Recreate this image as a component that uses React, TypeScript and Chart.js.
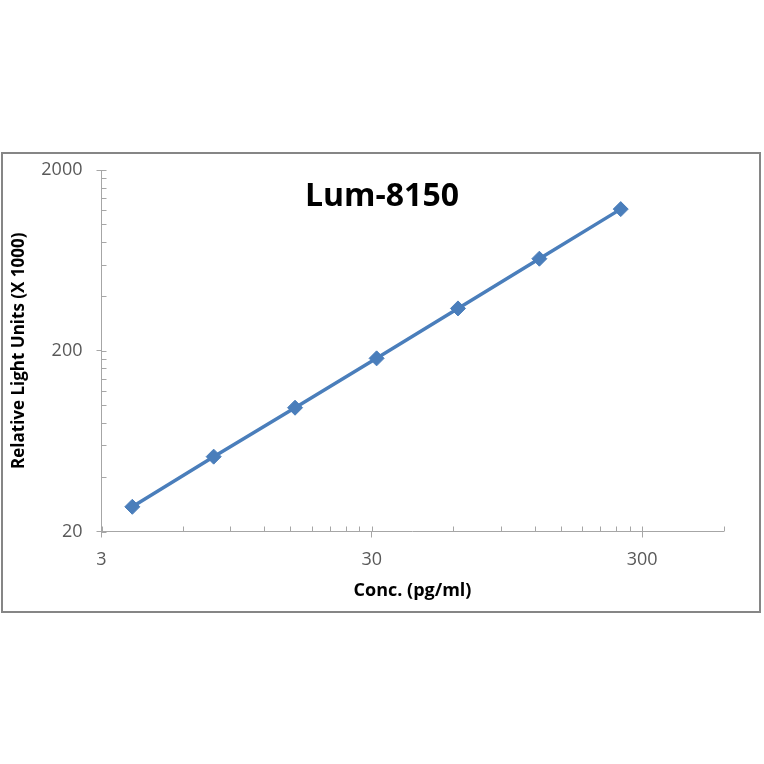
import React, { useEffect, useRef } from "react";
import { Chart, registerables } from "chart.js";

Chart.register(...registerables);

// ---- data ----
const concentrations = [3.9, 7.8, 15.6, 31.25, 62.5, 125, 250];
const rluValues = [27.4, 51.9, 96.8, 181.5, 343, 646, 1215];

const xTickValues = [3, 6, 9, 12, 15, 18, 21, 24, 27, 30, 60, 90, 120, 150, 180, 210, 240, 270, 300, 600];
const xLabelValues = [3, 30, 300];
const yTickValues = [
  20, 40, 60, 80, 100, 120, 140, 160, 180, 200,
  400, 600, 800, 1000, 1200, 1400, 1600, 1800, 2000,
];
const yLabelValues = [20, 200, 2000];

const chartTitle = "Lum-8150";
const xAxisTitle = "Conc. (pg/ml)";
const yAxisTitle = "Relative Light Units (X 1000)";

const SERIES_COLOR = "#4a7ebb";
const AXIS_COLOR = "#a6a6a6";
const TICK_TEXT = "#595959";
const FONT = "'Open Sans', 'DejaVu Sans', sans-serif";

const decorPlugin = {
  id: "decor",
  beforeDraw(chart: any) {
    const { ctx, width, height } = chart;
    ctx.save();
    ctx.fillStyle = "#ffffff";
    ctx.fillRect(0, 0, width, height);
    ctx.strokeStyle = "#868686";
    ctx.lineWidth = 2;
    ctx.strokeRect(2, 153, 758, 459);
    ctx.restore();
  },
  afterDatasetsDraw(chart: any) {
    const { ctx, chartArea, scales } = chart;
    ctx.save();
    ctx.strokeStyle = AXIS_COLOR;
    ctx.lineWidth = 1;
    const xs = scales.x;
    const ys = scales.y;
    ctx.beginPath();
    xs.ticks.forEach((t: any) => {
      const px = Math.round(xs.getPixelForValue(t.value)) + 0.5;
      ctx.moveTo(px, chartArea.bottom);
      ctx.lineTo(px, chartArea.bottom - 5);
    });
    ys.ticks.forEach((t: any) => {
      const py = Math.round(ys.getPixelForValue(t.value)) + 0.5;
      ctx.moveTo(chartArea.left, py);
      ctx.lineTo(chartArea.left + 5, py);
    });
    ctx.stroke();
    ctx.restore();
  },
  afterDraw(chart: any) {
    const { ctx } = chart;
    ctx.save();
    ctx.fillStyle = "#000000";
    ctx.font = `bold 32px ${FONT}`;
    ctx.textAlign = "center";
    ctx.textBaseline = "alphabetic";
    ctx.fillText(chartTitle, 382, 206);
    ctx.restore();
  },
};

export default function App() {
  const canvasRef = useRef<HTMLCanvasElement | null>(null);

  useEffect(() => {
    if (!canvasRef.current) return;
    const chart = new Chart(canvasRef.current, {
      type: "line",
      data: {
        datasets: [
          {
            label: "Lum-8150",
            data: concentrations.map((c, i) => ({ x: c, y: rluValues[i] })),
            borderColor: SERIES_COLOR,
            backgroundColor: SERIES_COLOR,
            borderWidth: 3.5,
            pointStyle: "rectRot",
            pointRadius: 7.5,
            pointBorderWidth: 1,
            pointBackgroundColor: SERIES_COLOR,
            pointBorderColor: SERIES_COLOR,
            tension: 0,
            clip: false as any,
          },
        ],
      },
      options: {
        animation: false,
        responsive: false,
        maintainAspectRatio: false,
        devicePixelRatio: 1,
        layout: { padding: { left: 0, top: 170, right: 40.5, bottom: 0 } },
        plugins: {
          legend: { display: false },
          title: { display: false },
          tooltip: { enabled: false },
        },
        scales: {
          x: {
            type: "logarithmic",
            min: 3,
            max: 600,
            afterBuildTicks: (scale: any) => {
              scale.ticks = xTickValues.map((v) => ({ value: v }));
            },
            afterFit: (scale: any) => {
              scale.height = 232.5;
            },
            border: { display: true, color: AXIS_COLOR, width: 1 },
            grid: {
              drawOnChartArea: false,
              drawTicks: true,
              tickLength: 6,
              color: (c: any) => (c.tick && xLabelValues.includes(c.tick.value) ? AXIS_COLOR : "rgba(0,0,0,0)"),
            },
            ticks: {
              autoSkip: false,
              maxRotation: 0,
              padding: 12,
              color: TICK_TEXT,
              font: { family: FONT, size: 18 },
              callback: (v: any) => (xLabelValues.includes(Number(v)) ? String(v) : ""),
            },
            title: {
              display: true,
              text: xAxisTitle,
              color: "#000000",
              font: { family: FONT, size: 18, weight: "bold" },
              padding: { top: 0, bottom: 162 },
            },
          },
          y: {
            type: "logarithmic",
            min: 20,
            max: 2000,
            afterBuildTicks: (scale: any) => {
              scale.ticks = yTickValues.map((v) => ({ value: v }));
            },
            afterFit: (scale: any) => {
              scale.width = 101.5;
            },
            border: { display: true, color: AXIS_COLOR, width: 1 },
            grid: {
              drawOnChartArea: false,
              drawTicks: true,
              tickLength: 5,
              color: (c: any) => (c.tick && yLabelValues.includes(c.tick.value) ? AXIS_COLOR : "rgba(0,0,0,0)"),
            },
            ticks: {
              autoSkip: false,
              padding: 14,
              color: TICK_TEXT,
              font: { family: FONT, size: 18 },
              callback: (v: any) => (yLabelValues.includes(Number(v)) ? String(v) : ""),
            },
            title: {
              display: true,
              text: yAxisTitle,
              color: "#000000",
              font: { family: FONT, size: 17, weight: "bold" },
              padding: { top: 9, bottom: 0 },
            },
          },
        },
      } as any,
      plugins: [decorPlugin],
    });
    return () => chart.destroy();
  }, []);

  return (
    <div style={{ position: "fixed", left: 0, top: 0, width: 764, height: 764, background: "#fff" }}>
      <canvas ref={canvasRef} width={764} height={764} style={{ width: 764, height: 764, display: "block" }} />
    </div>
  );
}
